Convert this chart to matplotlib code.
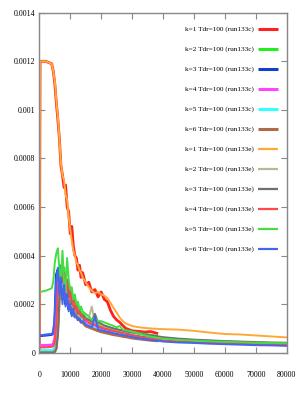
import matplotlib
matplotlib.use("Agg")
import matplotlib.pyplot as plt
import numpy as np

# ---------------- data (values in units of 1e-4) ----------------
x_c = [0, 250, 2000, 4000, 4500, 5000, 5500, 6000, 6500, 7000, 7500, 8000, 8500, 9000,
       9500, 10000, 10500, 11000, 11500, 12000, 12500, 13000, 13500, 14000, 15000, 16000,
       17000, 18000, 19000, 20000, 21000, 22000, 23000, 24000, 25000, 26000, 27000, 28000,
       29000, 30000, 32000, 34000, 36000, 38000]
x_e = x_c + [40000, 45000, 50000, 55000, 60000, 65000, 70000, 75000, 80000]

c_k1 = [0, 12.0, 12.0, 11.9, 11.6, 11.1, 10.3, 9.6, 8.8, 7.7, 7.3, 6.8, 6.9, 6.0, 5.8, 4.9,
        5.2, 4.4, 4.0, 3.9, 3.4, 3.6, 3.1, 3.3, 2.8, 2.9, 2.5, 2.6, 2.3, 2.5, 2.2, 2.1, 1.75,
        1.5, 1.35, 1.25, 1.12, 1.0, 0.95, 0.9, 0.88, 0.85, 0.87, 0.8]
c_k2 = [0.04, 0.04, 0.04, 0.05, 0.06, 0.1, 0.3, 1.4, 2.7, 3.1, 2.5, 3.5, 2.6, 3.0, 2.4, 2.6,
        2.1, 2.3, 1.9, 2.0, 1.7, 1.8, 1.6, 1.6, 1.45, 1.35, 1.3, 1.25, 1.2, 1.15, 1.1, 1.05,
        1.0, 0.97, 0.94, 0.92, 0.9, 0.88, 0.86, 0.84, 0.8, 0.76, 0.72, 0.68]
c_k3 = [0.7, 0.7, 0.72, 0.75, 0.8, 1.2, 3.2, 3.4, 2.6, 3.3, 2.2, 3.0, 2.0, 2.6, 1.8, 2.1, 1.6,
        1.9, 1.5, 1.6, 1.4, 1.5, 1.3, 1.35, 1.2, 1.15, 1.1, 1.05, 1.0, 0.98, 0.95, 0.9, 0.88,
        0.85, 0.82, 0.8, 0.78, 0.76, 0.74, 0.7, 0.66, 0.62, 0.58, 0.55]
c_k4 = [0.3, 0.3, 0.3, 0.32, 0.35, 0.6, 1.5, 2.8, 3.1, 2.5, 3.3, 2.4, 2.8, 2.2, 2.5, 1.9, 2.1,
        1.7, 1.8, 1.5, 1.6, 1.4, 1.45, 1.3, 1.2, 1.15, 1.1, 1.05, 1.0, 0.95, 0.92, 0.9, 0.85,
        0.82, 0.8, 0.78, 0.75, 0.73, 0.7, 0.68, 0.64, 0.6, 0.57, 0.54]
c_k5 = [0.1, 0.1, 0.1, 0.1, 0.12, 0.2, 0.6, 1.8, 2.9, 2.3, 3.0, 2.4, 2.6, 2.1, 2.4, 1.8, 2.0,
        1.6, 1.7, 1.45, 1.5, 1.35, 1.4, 1.25, 1.15, 1.1, 1.05, 1.0, 0.95, 0.9, 0.88, 0.85,
        0.82, 0.8, 0.77, 0.74, 0.72, 0.7, 0.68, 0.65, 0.62, 0.58, 0.55, 0.52]
c_k6 = [0.0, 0.0, 0.0, 0.01, 0.02, 0.05, 0.2, 0.9, 2.4, 3.2, 2.6, 2.9, 2.2, 2.5, 1.9, 2.1, 1.7,
        1.8, 1.5, 1.6, 1.35, 1.4, 1.25, 1.25, 1.1, 1.05, 1.0, 0.95, 0.9, 0.86, 0.83, 0.8, 0.77,
        0.74, 0.72, 0.7, 0.67, 0.65, 0.63, 0.6, 0.57, 0.54, 0.51, 0.49]

e_k1 = [0, 12.0, 12.0, 11.9, 11.6, 11.2, 10.4, 9.7, 8.8, 7.8, 7.3, 7.1, 6.5, 6.3, 5.6, 5.1,
        4.6, 4.2, 4.0, 3.7, 3.6, 3.4, 3.3, 3.1, 2.9, 2.7, 2.55, 2.45, 2.5, 2.4, 2.35, 2.25,
        2.05, 1.85, 1.65, 1.45, 1.3, 1.2, 1.15, 1.1, 1.05, 1.02, 1.0, 0.98, 0.97, 0.95, 0.9,
        0.83, 0.77, 0.75, 0.71, 0.67, 0.63]
e_k2 = [0.0, 0.0, 0.0, 0.01, 0.02, 0.05, 0.25, 1.2, 2.8, 3.4, 2.7, 3.2, 2.5, 2.8, 2.2, 2.4,
        1.9, 2.1, 1.7, 1.8, 1.55, 1.6, 1.45, 1.5, 1.4, 1.45, 1.9, 1.2, 1.25, 1.15, 1.1, 1.05,
        1.0, 0.97, 0.94, 0.92, 0.89, 0.86, 0.84, 0.82, 0.78, 0.74, 0.7, 0.66, 0.62, 0.56, 0.52,
        0.49, 0.46, 0.44, 0.42, 0.41, 0.4]
e_k3 = [0.0, 0.0, 0.0, 0.0, 0.01, 0.03, 0.15, 0.8, 2.2, 3.6, 2.9, 3.3, 2.6, 3.0, 2.3, 2.5,
        2.0, 2.2, 1.8, 1.9, 1.6, 1.7, 1.5, 1.55, 1.4, 1.35, 1.3, 1.6, 1.25, 1.2, 1.12, 1.08,
        1.04, 1.0, 0.97, 0.94, 0.91, 0.88, 0.86, 0.84, 0.8, 0.76, 0.72, 0.68, 0.64, 0.58, 0.54,
        0.51, 0.48, 0.46, 0.44, 0.42, 0.41]
e_k4 = [0.22, 0.22, 0.22, 0.24, 0.27, 0.45, 1.2, 2.5, 3.4, 2.7, 3.6, 2.9, 3.2, 2.6, 2.9, 2.2,
        2.4, 1.9, 2.1, 1.7, 1.8, 1.6, 1.6, 1.45, 1.35, 1.25, 1.2, 1.15, 1.1, 1.05, 1.0, 0.97,
        0.93, 0.9, 0.87, 0.84, 0.8, 0.78, 0.75, 0.72, 0.67, 0.62, 0.58, 0.55, 0.51, 0.47, 0.44,
        0.41, 0.39, 0.37, 0.35, 0.34, 0.33]
e_k5 = [2.5, 2.5, 2.55, 2.65, 2.9, 3.7, 4.1, 4.3, 3.4, 3.0, 4.2, 2.9, 2.6, 3.9, 3.0, 2.6, 2.7,
        2.2, 2.4, 2.0, 2.1, 1.8, 1.9, 1.7, 1.6, 1.5, 1.35, 1.45, 1.3, 1.3, 1.25, 1.2, 1.15, 1.1,
        1.05, 1.1, 0.95, 0.92, 0.9, 0.87, 0.8, 0.72, 0.66, 0.62, 0.58, 0.53, 0.5, 0.47, 0.45,
        0.43, 0.41, 0.4, 0.39]
e_k6 = [0.72, 0.72, 0.74, 0.77, 0.85, 1.6, 3.0, 3.5, 2.4, 3.1, 2.0, 2.8, 1.9, 2.4, 1.7, 2.0,
        1.5, 1.8, 1.45, 1.5, 1.35, 1.4, 1.25, 1.3, 1.15, 1.1, 1.05, 1.5, 0.95, 0.92, 0.9, 0.86,
        0.84, 0.8, 0.78, 0.75, 0.72, 0.7, 0.68, 0.65, 0.6, 0.56, 0.52, 0.5, 0.46, 0.42, 0.4,
        0.37, 0.35, 0.33, 0.31, 0.3, 0.28]

labels_c = [f"k={k} Tdr=100 (run133c)" for k in range(1, 7)]
labels_e = [f"k={k} Tdr=100 (run133e)" for k in range(1, 7)]
series_c = [c_k1, c_k2, c_k3, c_k4, c_k5, c_k6]
series_e = [e_k1, e_k2, e_k3, e_k4, e_k5, e_k6]
colors_c = ["#ff2020", "#22ee22", "#1040cc", "#ff44ff", "#33ffff", "#b06a48"]
colors_e = ["#ffa838", "#b8b898", "#707070", "#ff4848", "#44dd44", "#4466ee"]

yticks = [0, 0.0002, 0.0004, 0.0006, 0.0008, 0.001, 0.0012, 0.0014]
ytick_labels = ["0", "0.0002", "0.0004", "0.0006", "0.0008", "0.001", "0.0012", "0.0014"]
xticks = [0, 10000, 20000, 30000, 40000, 50000, 60000, 70000, 80000]
xtick_labels = [str(v) for v in xticks]

# ---------------- figure ----------------
W, H = 299, 393
fig = plt.figure(figsize=(W / 100, H / 100), dpi=100)
L, R, T, B = 39.3, 286.7, 12.7, 352.7
ax = fig.add_axes([L / W, 1 - B / H, (R - L) / W, (B - T) / H])

entries = []
for lab, ys, col in zip(labels_c, series_c, colors_c):
    ax.plot(x_c, np.array(ys) * 1e-4, color=col, lw=2.0, solid_joinstyle="round")
    entries.append((lab, col, 2.0))
for lab, ys, col in zip(labels_e, series_e, colors_e):
    ax.plot(x_e, np.array(ys) * 1e-4, color=col, lw=1.4, solid_joinstyle="round")
    entries.append((lab, col, 1.4))

ax.set_xlim(0, 80000)
ax.set_ylim(0, 0.0014)
ax.set_xticks(xticks)
ax.set_xticklabels(xtick_labels)
ax.set_yticks(yticks)
ax.set_yticklabels(ytick_labels)

for lbl in ax.get_xticklabels() + ax.get_yticklabels():
    lbl.set_fontfamily("Liberation Serif")
    lbl.set_fontsize(5.7)

ax.tick_params(direction="in", length=4, width=0.8, color="#888888",
               top=True, right=True, pad=3)
ax.tick_params(axis="x", pad=13)
for s in ax.spines.values():
    s.set_color("#888888")
    s.set_linewidth(1.0)

# legend (gnuplot style: text right-aligned, sample to the right)
def ax_x(px):
    return (px - L) / (R - L)

def ax_y(py):
    return (B - py) / (B - T)

for i, (lab, col, lw) in enumerate(entries):
    py = 29.3 + 20 * i
    ax.text(ax_x(254), ax_y(py), lab, transform=ax.transAxes, ha="right", va="center",
            family="Liberation Serif", size=5.2)
    ax.plot([ax_x(258), ax_x(278)], [ax_y(py), ax_y(py)], transform=ax.transAxes,
            color=col, lw=lw + 0.2, clip_on=False, solid_capstyle="butt")

fig.savefig("out.png", dpi=100)
